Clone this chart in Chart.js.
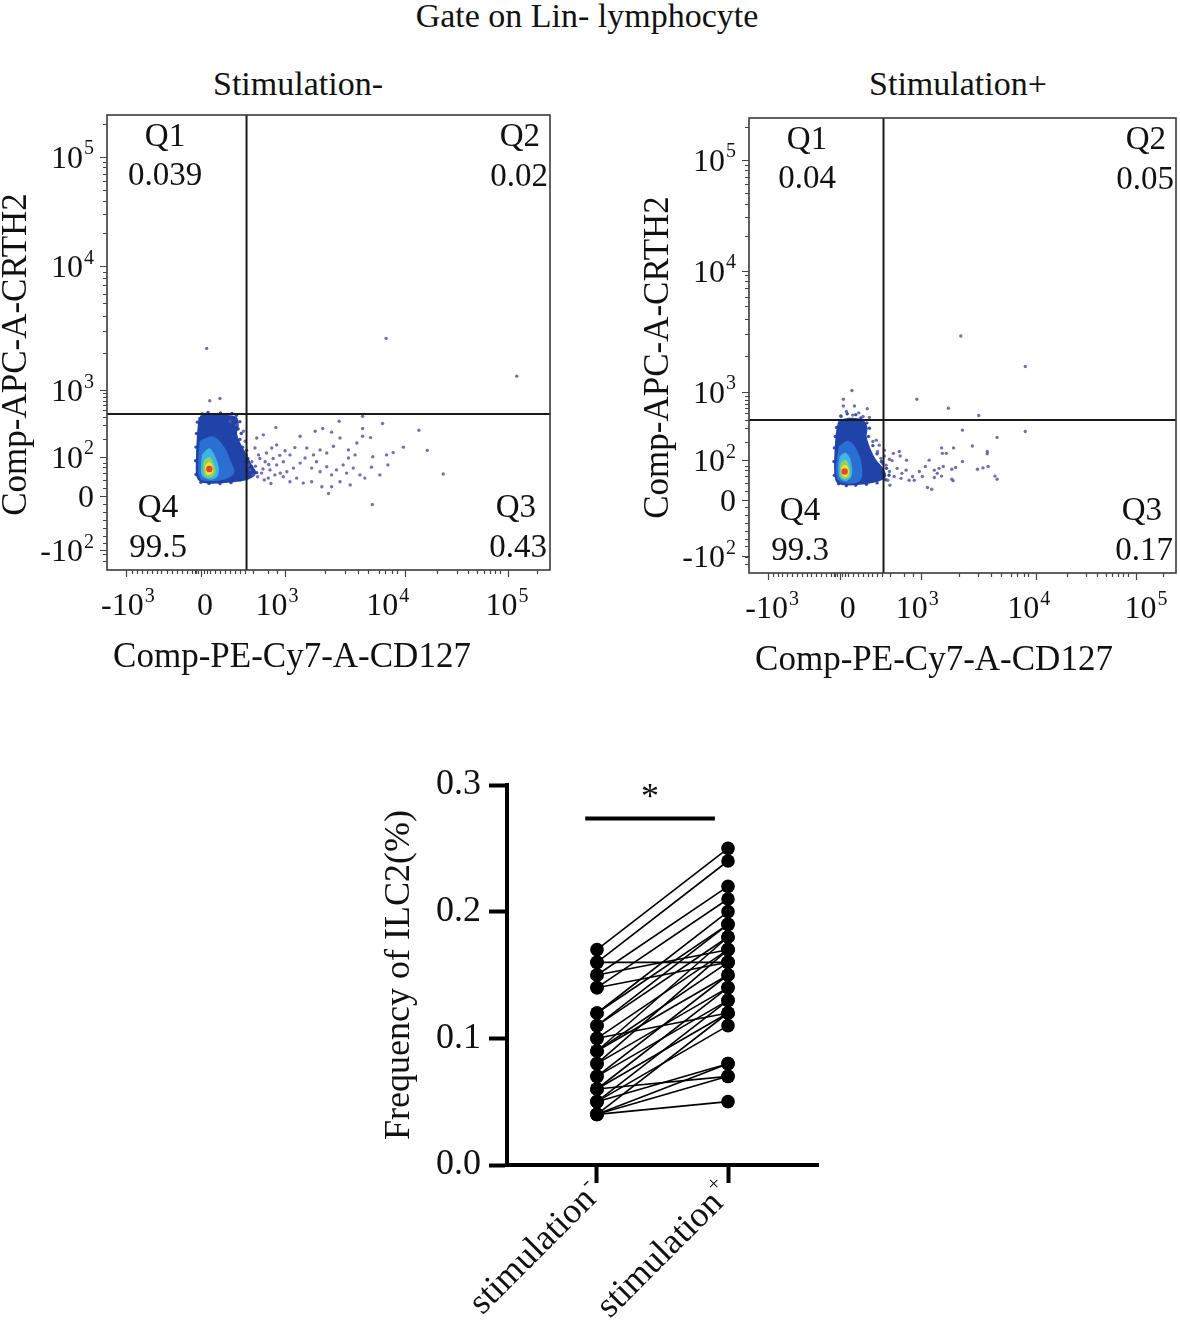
<!DOCTYPE html>
<html><head><meta charset="utf-8">
<script src="https://cdn.jsdelivr.net/npm/chart.js@4.4.1/dist/chart.umd.min.js"></script>
<style>
html,body{margin:0;padding:0;background:#fff;}
body{width:1180px;height:1328px;position:relative;overflow:hidden;font-family:"Liberation Serif","Times New Roman",serif;color:#111;}
.t{position:absolute;white-space:nowrap;transform:translateX(-50%);font-size:34px;line-height:1;}
canvas{position:absolute;}
</style></head><body>
<div class="t" style="left:587px;top:-1px;font-size:34px;">Gate on Lin- lymphocyte</div>
<div class="t" style="left:298px;top:67px;">Stimulation-</div>
<div class="t" style="left:958px;top:67px;">Stimulation+</div>
<canvas id="c1" width="600" height="580" style="left:0px;top:100px;"></canvas>
<canvas id="c2" width="543" height="586" style="left:637px;top:100px;"></canvas>
<canvas id="c3" width="486" height="588" style="left:374px;top:740px;"></canvas>
<script>
// ---------------- DATA ----------------
// Flow plots: values in display channels (0–1000) of the biexponential axes
const xTitle = 'Comp-PE-Cy7-A-CD127';
const yTitle = 'Comp-APC-A-CRTH2';
const xTickLabels = ['-10³', '0', '10³', '10⁴', '10⁵'];
const yTickLabels = ['10⁵', '10⁴', '10³', '10²', '0', '-10²'];
const xTickPosLeft = [47, 221, 384, 634, 903];
const xTickPosRight = [54, 231, 394, 655, 930];
const yTickPosLeft = [908, 668, 395, 249, 163, 44];
const yTickPosRight = [908, 664, 398, 248, 160, 37];
const xMajorTicks = [44, 212, 402, 673, 906];
const xMinorTicks = [56, 67, 78, 90, 101, 112, 123, 135, 146, 157, 169, 180, 191, 199, 202, 206, 218, 225, 233, 244, 255, 266, 278, 289, 300, 312, 330, 364, 383, 492, 537, 567, 590, 613, 628, 643, 654, 744, 789, 816, 835, 850, 865, 876, 887, 970];
const yMinorTicks = [20, 35, 60, 75, 92, 110, 128, 145, 180, 198, 214, 226, 236, 289, 319, 337, 351, 363, 372, 381, 388, 477, 525, 559, 586, 607, 626, 642, 655, 740, 783, 812, 836, 855, 871, 885, 897, 980];

const quadrantNames = ['Q1', 'Q2', 'Q3', 'Q4'];
const quadValuesLeft = ['0.039', '0.02', '0.43', '99.5'];
const quadValuesRight = ['0.04', '0.05', '0.17', '99.3'];
const gateLeft = [315, 343];
const gateRight = [315, 336];

// density contours (outer -> inner), [x, y] channels
const blobLeft = [
  [[210,336],[233,339],[263,338],[290,334],[294,318],[290,300],[298,278],[312,253],[323,231],[333,213],[318,202],[285,196],[240,193],[214,196],[205,207],[204,238],[206,290]],
  [[211,283],[240,292],[263,270],[278,238],[285,213],[263,200],[233,197],[211,202],[208,238]],
  [[216,253],[231,266],[244,246],[251,220],[244,203],[225,202],[214,213]],
  [[219,238],[231,247],[240,231],[243,213],[231,205],[220,210]],
  [[223,230],[232,235],[238,222],[235,212],[226,212]]
];
const coreLeft = [231, 222];
const blobRight = [
  [[212,333],[235,338],[263,335],[274,320],[272,300],[282,270],[294,248],[313,226],[317,212],[298,203],[259,197],[228,196],[208,201],[203,226],[204,270],[207,307]],
  [[212,278],[232,289],[251,270],[263,234],[259,204],[228,199],[208,208],[206,241]],
  [[214,256],[226,263],[237,245],[239,215],[228,204],[214,210],[211,234]],
  [[216,241],[226,247],[234,230],[234,213],[223,208],[215,218]],
  [[218,232],[226,236],[232,224],[228,213],[220,215]]
];
const coreRight = [224, 223];
// sparse dark events along the dense cloud's edge
const edgeLeft = [[215,343],[228,346],[242,342],[256,345],[270,341],[282,344],[292,340],[300,326],[296,310],[303,300],[300,287],[306,270],[302,262],[315,263],[318,245],[326,228],[331,218],[338,214],[310,237],[300,198],[280,192],[255,190],[230,190],[212,193],[201,210],[200,240],[201,270],[202,300],[204,325]];
const edgeRight = [[215,345],[230,350],[250,348],[262,341],[276,330],[282,318],[280,300],[290,280],[300,262],[310,245],[322,230],[328,215],[320,205],[300,198],[275,195],[250,193],[228,192],[210,196],[200,215],[199,245],[200,275],[202,300],[205,320]];

const eventsLeft = [
  [225,487],[232,372],[255,377],[630,509],[925,426],
  [381,313],[436,294],[470,305],[487,311],[507,303],[524,327],[577,311],[622,322],[704,307],[723,263],
  [669,270],[646,258],[634,231],[597,226],[600,249],[595,291],[577,294],[564,279],[545,264],[526,290],
  [511,272],[496,257],[481,264],[466,253],[451,268],[424,269],[413,253],[398,238],[383,231],[368,220],
  [357,238],[349,213],[342,253],[334,268],[330,209],[364,202],[379,209],[391,213],[406,216],[421,224],
  [436,235],[447,246],[462,224],[473,238],[481,216],[496,227],[507,209],[518,220],[533,231],[545,246],
  [556,224],[571,209],[582,202],[549,187],[526,194],[507,183],[500,168],[485,183],[462,194],[443,191],
  [428,202],[413,194],[398,205],[759,211],[599,144],[616,209],[631,253],[560,253],[541,213],[360,257],
  [372,268],[383,275],[353,297],[338,290],[315,253],[319,231],[323,220],[312,283],[327,238],[308,305],
  [293,319],[278,327],[577,338],[335,228],[345,245],[352,222],[365,232],[375,245],[390,252],[402,262],
  [340,205],[355,198],[370,190]
];
const eventsRight = [
  [241,401],[221,382],[221,367],[247,367],[277,361],[228,355],[243,347],[257,352],[267,344],[282,342],[216,344],
  [393,382],[467,362],[538,346],[496,521],[647,454],
  [500,314],[647,311],[581,298],[523,279],[558,267],[558,262],[479,275],[451,275],[453,263],[462,263],
  [352,267],[338,263],[354,257],[369,248],[335,247],[422,248],[500,245],[413,234],[434,226],[445,230],
  [455,234],[475,228],[484,232],[535,228],[548,231],[560,234],[441,219],[451,213],[434,210],[399,223],
  [383,212],[368,226],[358,219],[347,230],[340,212],[329,223],[325,204],[330,193],[387,204],[406,212],
  [418,188],[428,184],[475,206],[478,203],[576,213],[581,206],[356,208],[375,204],[321,237],[329,250],
  [317,257],[305,281],[298,292],[317,270],[313,241],[290,289],[301,267],[309,252]
];

// Paired plot
const categories = ['stimulation⁻', 'stimulation⁺'];
const stimMinus = [0.17,0.16,0.16,0.15,0.15,0.14,0.14,0.12,0.12,0.11,0.11,0.10,0.10,0.09,0.09,0.09,0.08,0.08,0.07,0.07,0.06,0.06,0.06,0.05,0.05,0.05,0.04,0.04,0.04,0.04];
const stimPlus  = [0.25,0.24,0.16,0.22,0.17,0.21,0.16,0.20,0.19,0.19,0.18,0.17,0.12,0.18,0.16,0.15,0.17,0.14,0.15,0.13,0.14,0.12,0.07,0.13,0.11,0.08,0.12,0.08,0.07,0.05];
const yTicksPaired = [0.0, 0.1, 0.2, 0.3];
const sigBar = [-0.09, 0.90, 0.2735];
const sigLabel = '*';

// ---------------- RENDER ----------------
const SERIF = '"Liberation Serif","Times New Roman",Times,serif';
Chart.defaults.font.family = SERIF;
Chart.defaults.color = '#111';
const blobColors = ['#1f43a8', '#2b6fd2', '#3fb4e6', '#8fd35a', '#f1e23c'];
const coreColor = '#e4472a';
const eventColor = 'rgba(88,88,165,0.85)';
const edgeColor = 'rgba(35,60,160,0.9)';

const supMap = {'⁰':'0','¹':'1','²':'2','³':'3','⁴':'4','⁵':'5','⁶':'6','⁷':'7','⁸':'8','⁹':'9','⁺':'+','⁻':'-'};
function drawSup(ctx, label, x, y, align, size) {
  let base = '', sup = '';
  for (const ch of label) { if (supMap[ch] !== undefined) sup += supMap[ch]; else base += ch; }
  const supSize = Math.round(size * 0.62);
  ctx.font = size + 'px ' + SERIF; const wb = ctx.measureText(base).width;
  ctx.font = supSize + 'px ' + SERIF; const ws = sup ? ctx.measureText(sup).width + 1 : 0;
  const total = wb + ws;
  const x0 = align === 'right' ? x - total : (align === 'center' ? x - total / 2 : x);
  ctx.textAlign = 'left'; ctx.textBaseline = 'alphabetic';
  ctx.font = size + 'px ' + SERIF; ctx.fillText(base, x0, y);
  if (sup) { ctx.font = supSize + 'px ' + SERIF; ctx.fillText(sup, x0 + wb + 1, y - size * 0.42); }
}

function toXY(arr) { return arr.map(p => ({x: p[0], y: p[1]})); }

function flowChart(id, o) {
  const ds = [];
  ds.push({type: 'line', data: [{x: o.gate[0], y: 0}, {x: o.gate[0], y: 1000}], borderColor: '#1a1a1a', borderWidth: 2, pointRadius: 0, order: 0});
  ds.push({type: 'line', data: [{x: 0, y: o.gate[1]}, {x: 1000, y: o.gate[1]}], borderColor: '#1a1a1a', borderWidth: 2, pointRadius: 0, order: 0});
  ds.push({type: 'scatter', data: toXY(o.events), backgroundColor: eventColor, borderWidth: 0, pointRadius: 1.7, order: 1});
  ds.push({type: 'scatter', data: toXY(o.edge), backgroundColor: edgeColor, borderWidth: 0, pointRadius: 1.7, order: 1});
  ds.push({type: 'scatter', data: toXY([o.core]), backgroundColor: coreColor, borderWidth: 0, pointRadius: 3.2, order: 2});
  o.blob.forEach((poly, i) => {
    const pts = toXY(poly.concat([poly[0]]));
    ds.push({type: 'line', data: pts, fill: 'shape', backgroundColor: blobColors[i], borderColor: blobColors[i],
      borderWidth: i === 0 ? 3 : 1.5, pointRadius: 0, tension: 0.35, order: 10 - i});
  });
  const deco = {
    id: 'deco_' + id,
    afterDatasetsDraw(chart) {
      const {ctx, chartArea: a, scales: {x, y}} = chart;
      ctx.save();
      ctx.strokeStyle = '#3a3a3a'; ctx.lineWidth = 1.6;
      ctx.strokeRect(a.left, a.top, a.right - a.left, a.bottom - a.top);
      ctx.strokeStyle = '#444'; ctx.lineWidth = 1.2;
      ctx.beginPath();
      xMinorTicks.forEach(v => { const p = Math.round(x.getPixelForValue(v)) + 0.5; ctx.moveTo(p, a.bottom); ctx.lineTo(p, a.bottom + 4); });
      xMajorTicks.forEach(v => { const p = Math.round(x.getPixelForValue(v)) + 0.5; ctx.moveTo(p, a.bottom); ctx.lineTo(p, a.bottom + 7); });
      yMinorTicks.forEach(v => { const p = Math.round(y.getPixelForValue(v)) + 0.5; ctx.moveTo(a.left, p); ctx.lineTo(a.left - 4, p); });
      o.yTickPos.forEach(v => { const p = Math.round(y.getPixelForValue(v)) + 0.5; ctx.moveTo(a.left, p); ctx.lineTo(a.left - 7, p); });
      ctx.stroke();
      ctx.fillStyle = '#111';
      xTickLabels.forEach((lab, i) => drawSup(ctx, lab, x.getPixelForValue(o.xTickPos[i]), a.bottom + 45, 'center', 32));
      yTickLabels.forEach((lab, i) => drawSup(ctx, lab, a.left - 13, y.getPixelForValue(o.yTickPos[i]) + 11, 'right', 32));
      ctx.font = '33px ' + SERIF; ctx.textBaseline = 'middle';
      ctx.textAlign = 'center';
      ctx.fillText(quadrantNames[0], a.left + 58, a.top + 22);
      ctx.fillText(o.quad[0], a.left + 58, a.top + 61);
      ctx.fillText(quadrantNames[3], a.left + 51, a.bottom - 62);
      ctx.fillText(o.quad[3], a.left + 51, a.bottom - 22);
      ctx.textAlign = 'right';
      ctx.fillText(quadrantNames[1], a.right - 10, a.top + 22);
      ctx.fillText(o.quad[1], a.right - 2, a.top + 62);
      ctx.fillText(quadrantNames[2], a.right - 14, a.bottom - 62);
      ctx.fillText(o.quad[2], a.right - 3, a.bottom - 22);
      // axis titles
      ctx.font = '35px ' + SERIF; ctx.textAlign = 'center'; ctx.textBaseline = 'middle';
      ctx.fillText(xTitle, a.left + 185, a.bottom + 88);
      ctx.translate(a.left - 90, (a.top + a.bottom) / 2 + 12);
      ctx.rotate(-Math.PI / 2);
      ctx.fillText(yTitle, 0, 0);
      ctx.restore();
    }
  };
  return new Chart(document.getElementById(id), {
    type: 'scatter',
    data: {datasets: ds},
    options: {
      responsive: false, animation: false, events: [],
      layout: {padding: {top: o.padTop, right: o.padRight, left: 0, bottom: 0}},
      plugins: {legend: {display: false}, tooltip: {enabled: false}},
      scales: {
        x: {type: 'linear', min: 0, max: 1000, grid: {display: false}, border: {display: false}, ticks: {display: false},
            afterFit: s => { s.height = o.xAxisH; }},
        y: {type: 'linear', min: 0, max: 1000, grid: {display: false}, border: {display: false}, ticks: {display: false},
            afterFit: s => { s.width = o.yAxisW; }}
      }
    },
    plugins: [deco]
  });
}

flowChart('c1', {gate: gateLeft, events: eventsLeft, edge: edgeLeft, blob: blobLeft, core: coreLeft, quad: quadValuesLeft,
  xTickPos: xTickPosLeft, yTickPos: yTickPosLeft, padTop: 15, padRight: 50, yAxisW: 107, xAxisH: 110});
flowChart('c2', {gate: gateRight, events: eventsRight, edge: edgeRight, blob: blobRight, core: coreRight, quad: quadValuesRight,
  xTickPos: xTickPosRight, yTickPos: yTickPosRight, padTop: 18, padRight: 2, yAxisW: 112, xAxisH: 113});

// Paired chart
const pairDs = stimMinus.map((v, i) => ({
  type: 'line', data: [{x: 0, y: v}, {x: 1, y: stimPlus[i]}],
  borderColor: '#000', borderWidth: 1.6, pointRadius: 6.8, pointBackgroundColor: '#000', pointBorderWidth: 0
}));
pairDs.push({type: 'line', data: [{x: sigBar[0], y: sigBar[2]}, {x: sigBar[1], y: sigBar[2]}], borderColor: '#000', borderWidth: 4, pointRadius: 0});
const pairedDeco = {
  id: 'pairedDeco',
  afterDatasetsDraw(chart) {
    const {ctx, chartArea: a, scales: {x, y}} = chart;
    ctx.save();
    ctx.fillStyle = '#111'; ctx.font = '36px ' + SERIF; ctx.textAlign = 'center'; ctx.textBaseline = 'alphabetic';
    ctx.fillText(sigLabel, x.getPixelForValue((sigBar[0] + sigBar[1]) / 2), y.getPixelForValue(sigBar[2]) - 11);
    // rotated category labels with superscript sign
    categories.forEach((lab, i) => {
      ctx.save();
      ctx.translate(x.getPixelForValue(i) + 6, a.bottom + 30);
      ctx.rotate(-Math.PI / 4);
      drawSup(ctx, lab, 0, 0, 'right', 36);
      ctx.restore();
    });
    ctx.restore();
  }
};
new Chart(document.getElementById('c3'), {
  type: 'scatter',
  data: {datasets: pairDs},
  options: {
    responsive: false, animation: false, events: [],
    layout: {padding: {top: 45, right: 42, left: 0, bottom: 0}},
    plugins: {legend: {display: false}, tooltip: {enabled: false}},
    scales: {
      x: {type: 'linear', min: -0.687, max: 1.687,
          afterBuildTicks: s => { s.ticks = [{value: 0}, {value: 1}]; },
          ticks: {display: false},
          grid: {display: true, drawOnChartArea: false, drawTicks: true, tickLength: 18, tickWidth: 4, tickColor: '#000'},
          border: {display: true, width: 4, color: '#000'},
          afterFit: s => { s.height = 163; }},
      y: {type: 'linear', min: 0, max: 0.3,
          afterBuildTicks: s => { s.ticks = yTicksPaired.map(v => ({value: v})); },
          ticks: {callback: v => v.toFixed(1), font: {size: 36, family: SERIF}, color: '#111', padding: 8},
          grid: {display: true, drawOnChartArea: false, drawTicks: true, tickLength: 18, tickWidth: 4, tickColor: '#000'},
          border: {display: true, width: 4, color: '#000'},
          title: {display: true, text: 'Frequency of ILC2(%)', font: {size: 36, family: SERIF}, color: '#111', padding: {top: 4, bottom: 0}},
          afterFit: s => { s.width = 133; }}
    }
  },
  plugins: [pairedDeco]
});
</script>
</body></html>
